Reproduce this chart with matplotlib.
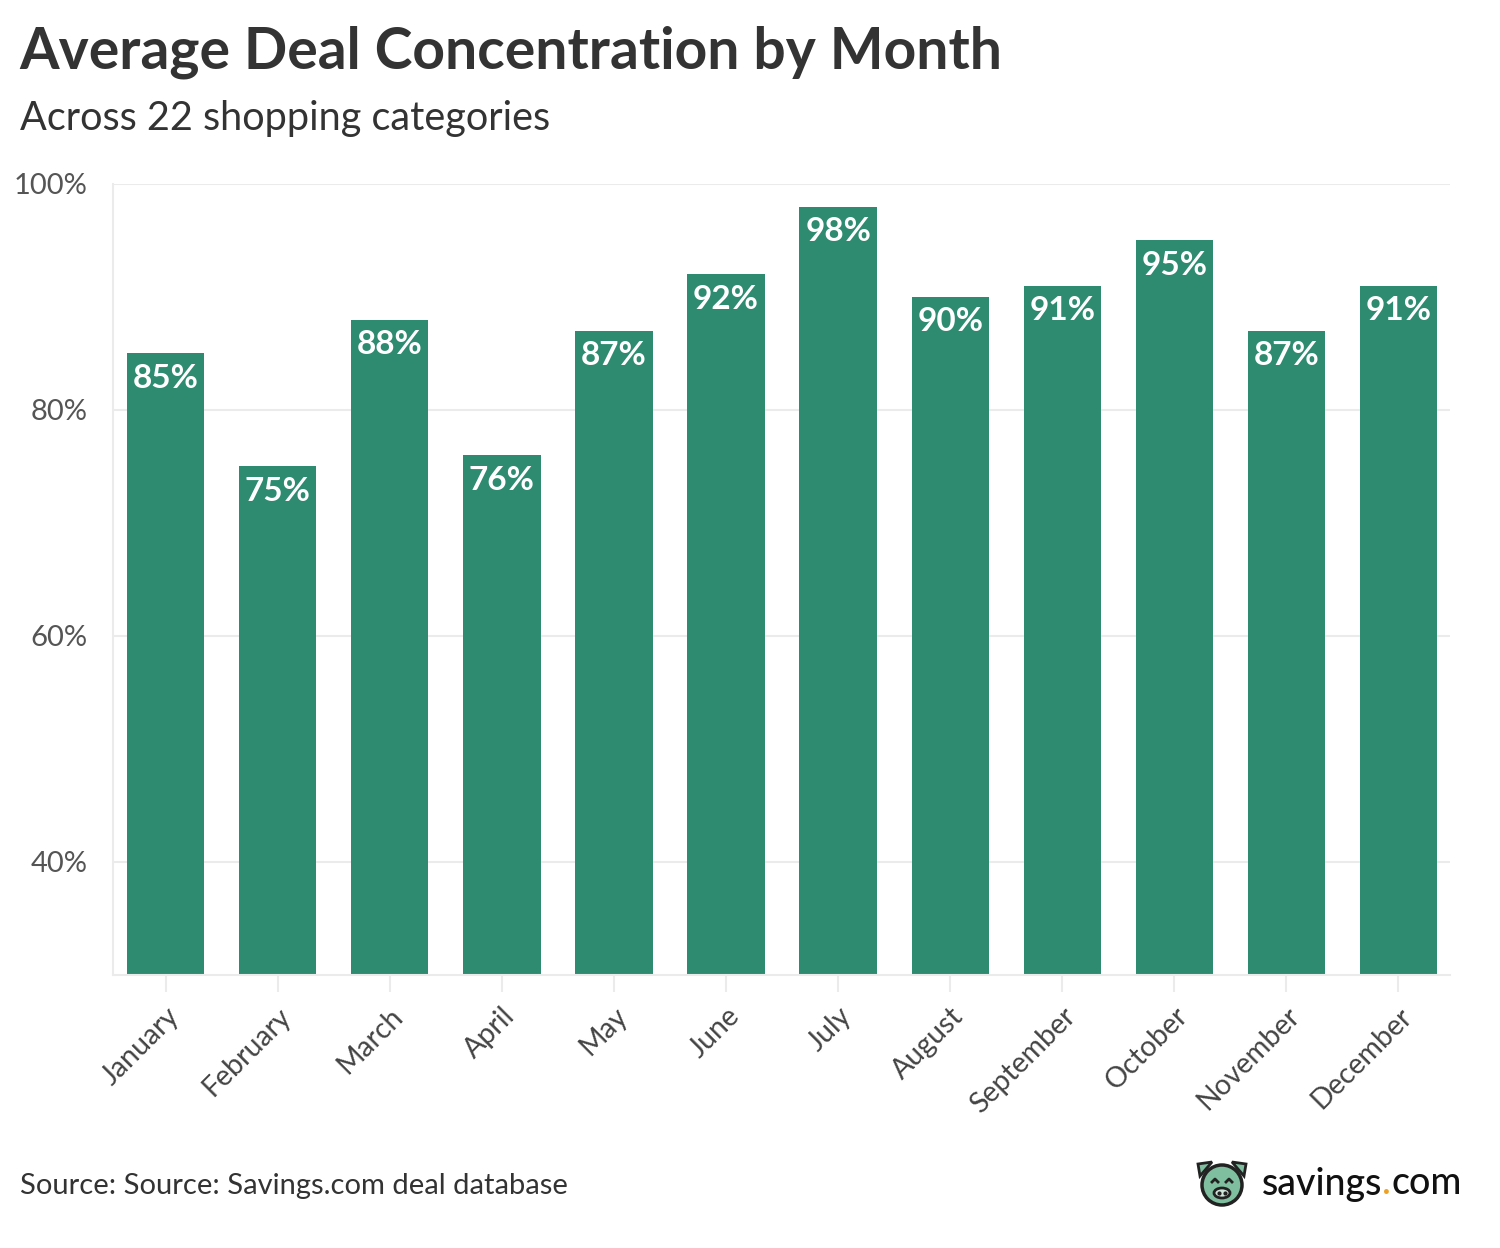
import matplotlib.pyplot as plt
from matplotlib.patches import Circle, Ellipse, Polygon

plt.rcParams['font.family'] = ['Lato', 'DejaVu Sans']

months = ['January', 'February', 'March', 'April', 'May', 'June', 'July',
          'August', 'September', 'October', 'November', 'December']
concentration = [85, 75, 88, 76, 87, 92, 98, 90, 91, 95, 87, 91]
yticks = [40, 60, 80, 100]

green = '#2e8b6f'
grid = '#ebebeb'

fig = plt.figure(figsize=(15, 12.48), dpi=100)
ax = fig.add_axes([0.0753, 0.2188, 0.8914, 0.6338])

x = list(range(len(months)))
ax.bar(x, concentration, width=0.69, color=green, zorder=2)
for xi, v in zip(x, concentration):
    ax.text(xi, v - 2.2, f'{v}%', ha='center', va='center', color='white',
            fontsize=24, fontweight='bold', zorder=3)

ax.set_xlim(-0.47, 11.46)
ax.set_ylim(30, 100)
ax.set_yticks(yticks)
ax.set_yticklabels([f'{t}%' for t in yticks])
ax.set_xticks(x)
ax.set_xticklabels(months, rotation=45, ha='right', rotation_mode='anchor')
ax.grid(axis='y', color=grid, lw=1.5, zorder=0)
for s in ['top', 'right']:
    ax.spines[s].set_visible(False)
for s in ['left', 'bottom']:
    ax.spines[s].set_color(grid)
    ax.spines[s].set_linewidth(1.5)
ax.tick_params(axis='y', length=0, pad=18, labelsize=21, labelcolor='#555555')
ax.tick_params(axis='x', length=12, width=1.5, color=grid, pad=8,
               labelsize=20.5, labelcolor='#444444')

fig.text(0.013, 0.958, 'Average Deal Concentration by Month', fontsize=41,
         fontweight='bold', color='#333333', va='center')
fig.text(0.013, 0.905, 'Across 22 shopping categories', fontsize=28.5,
         color='#333333', va='center')
fig.text(0.013, 0.050, 'Source: Source: Savings.com deal database', fontsize=21,
         color='#333333', va='center')

# logo
ow = fig.add_axes([0, 0, 1, 1], facecolor='none')
ow.set_xlim(0, 1500)
ow.set_ylim(0, 1248)
ow.axis('off')
cx, cy = 1222, 1248 - 1184
ow.add_patch(Polygon([[1200, cy + 8], [1198, cy + 20], [1212, cy + 22]], closed=True,
                     fc='#7fbf9f', ec='#222222', lw=2, zorder=4))
ow.add_patch(Polygon([[1244, cy + 8], [1246, cy + 20], [1232, cy + 22]], closed=True,
                     fc='#7fbf9f', ec='#222222', lw=2, zorder=4))
ow.add_patch(Circle((cx, cy - 1), 20, fc='#7fbf9f', ec='#222222', lw=2.5, zorder=5))
ow.add_patch(Ellipse((cx, cy - 9), 16, 10, fc='#cfe6da', ec='#222222', lw=2, zorder=6))
ow.plot([cx - 3, cx + 3], [cy - 9, cy - 9], 'o', color='#222222', ms=2, zorder=7)
ow.plot([cx - 10, cx - 7, cx - 4], [cy + 2, cy + 5, cy + 2], color='#222222', lw=2, zorder=7)
ow.plot([cx + 4, cx + 7, cx + 10], [cy + 2, cy + 5, cy + 2], color='#222222', lw=2, zorder=7)
t = ow.text(1262, cy, 'savings', fontsize=27, color='#111111', va='center',
            fontweight='medium')
fig.canvas.draw()
bb = t.get_window_extent().transformed(ow.transData.inverted())
t2 = ow.text(bb.x1, cy, '.', fontsize=27, color='#f0a020', va='center',
             fontweight='medium')
bb2 = t2.get_window_extent().transformed(ow.transData.inverted())
ow.text(bb2.x1, cy, 'com', fontsize=27, color='#111111', va='center',
        fontweight='medium')

fig.savefig('out.png', dpi=100, facecolor='white')
